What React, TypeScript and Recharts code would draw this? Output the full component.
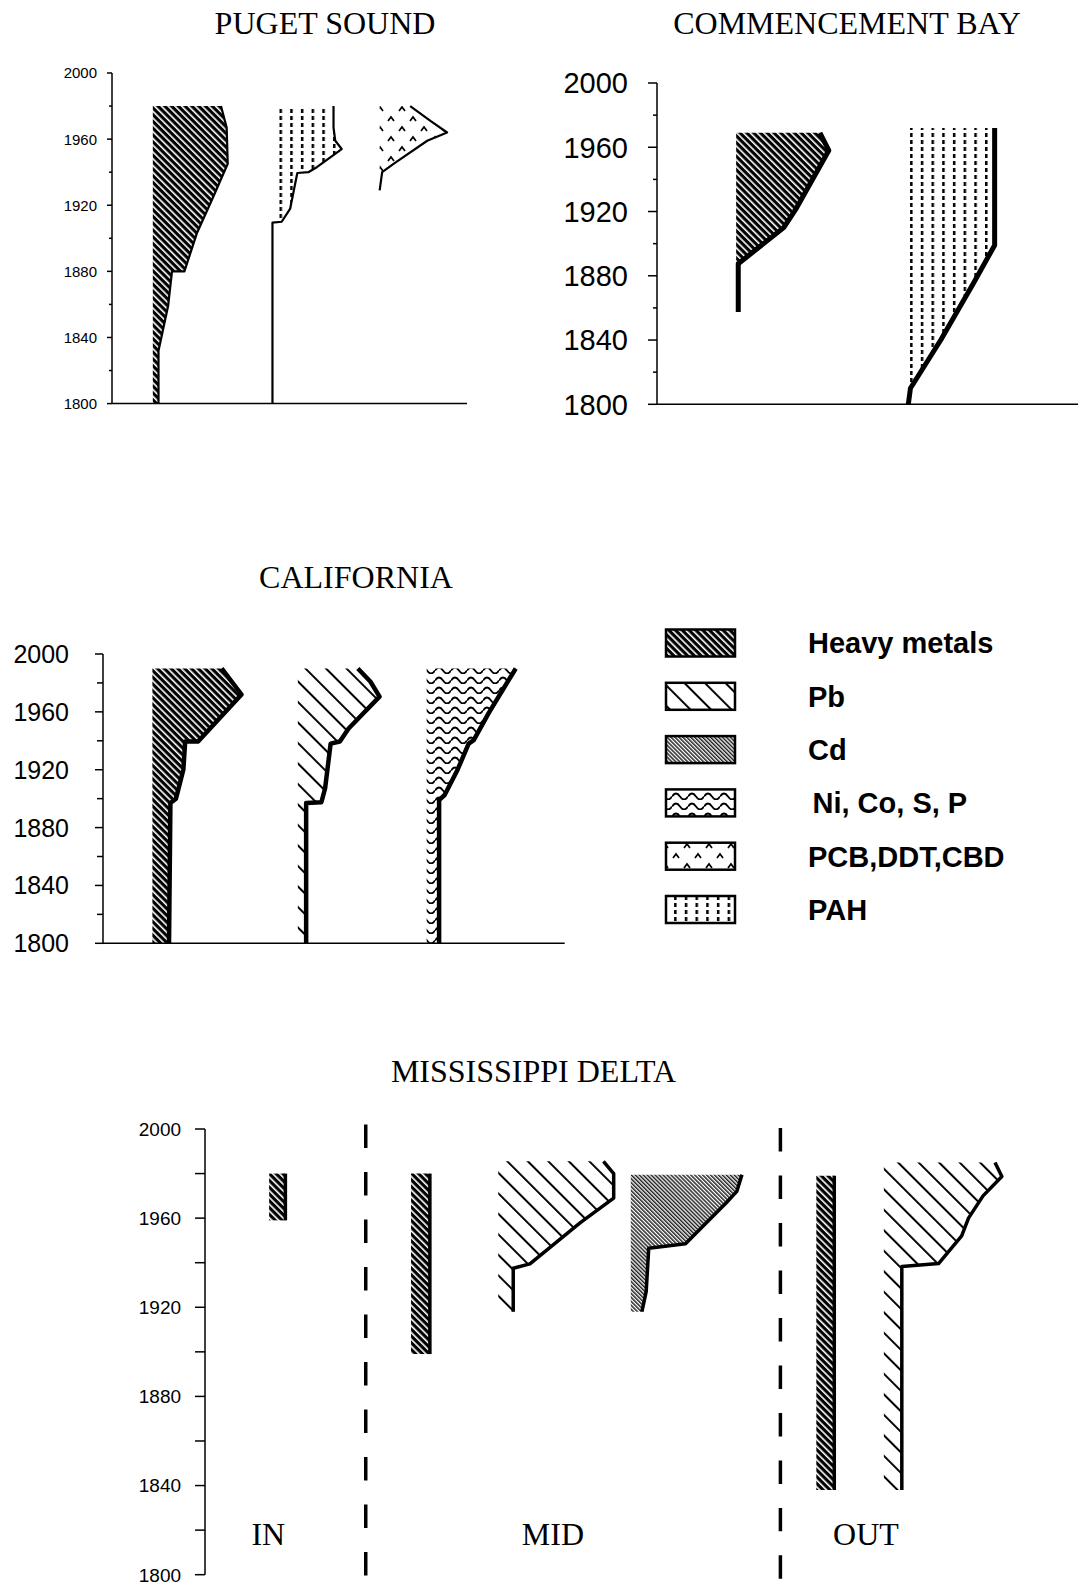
import React from 'react'
import { ComposedChart, Area, XAxis, YAxis, ReferenceLine, ReferenceDot, Legend } from 'recharts'

type Pt = { year: number; v: number }
const pts = (rows: number[][]): Pt[] => rows.map(([year, v]) => ({ year, v }))

// depth-year axis, shared by every panel
const yearTicks = [1800, 1820, 1840, 1860, 1880, 1900, 1920, 1940, 1960, 1980, 2000]

// Puget Sound (relative concentration, 0-100 across the panel)
const pugetMetals = pts([[1800, 1.6], [1832, 1.6], [1859, 4.3], [1880, 5.4], [1880, 8.9], [1903, 12.4], [1925, 17.0], [1945, 21.1], [1967, 20.8], [1980, 19.2]])
const pugetPah = pts([[1800, 0], [1909.5, 0], [1910, 2.6], [1918, 5.0], [1939.5, 7.0], [1940, 10.1], [1943, 12.5], [1954, 19.5], [1959, 17.7], [1967, 17.2], [1980, 17.2]])
const pugetPcb = pts([[1929, 0], [1940, 0.7], [1945, 3.9], [1959, 13.4], [1964, 19.0], [1971, 14.3], [1980, 8.6]])

// Commencement Bay
const cbMetals = pts([[1857.5, 0.5], [1887.5, 0.5], [1910, 11.3], [1922, 14.3], [1958, 22.0], [1969, 19.9]])
const cbPah = pts([[1800, 0], [1810, 0.5], [1840, 7.7], [1875, 15.4], [1899, 20.5], [1972, 20.5]])

// California
const caMetals = pts([[1800, 3.6], [1897, 3.9], [1900, 5.1], [1920, 6.7], [1939.5, 7.1], [1939.5, 9.9], [1972, 19.3], [1990, 15.0]])
const caPb = pts([[1800, 1.8], [1897, 1.8], [1897.5, 5.1], [1907, 5.9], [1938, 7.1], [1939.5, 9.1], [1948.5, 11.0], [1970.5, 17.7], [1981, 15.7], [1990, 13.0]])
const caNi = pts([[1800, 2.7], [1899, 2.7], [1902.5, 3.9], [1920, 6.7], [1938, 9.1], [1940.5, 10.2], [1959, 13.4], [1990, 19.3]])

// Mississippi Delta
const msInMetals = pts([[1959, 1.9], [1980, 1.9]])
const msMidMetals = pts([[1899, 2.2], [1980, 2.2]])
const msMidPb = pts([[1918, 1.75], [1937.5, 1.75], [1939.5, 3.7], [1958, 9.6], [1969, 13.5], [1980, 13.5], [1985.5, 12.3]])
const msMidCd = pts([[1918, 1.3], [1927, 1.8], [1946.5, 2.1], [1948.5, 6.4], [1967, 11.2], [1972, 12.4], [1979.5, 13.0]])
const msOutMetals = pts([[1838, 2.1], [1979, 2.1]])
const msOutPb = pts([[1838, 2.1], [1938.3, 2.1], [1939.6, 6.4], [1952, 9.1], [1960, 9.9], [1970, 11.6], [1978.7, 13.8], [1985, 13.0]])
const msZones = ['IN', 'MID', 'OUT']

const legendItems = [
  { name: 'Heavy metals', pattern: 'hm' },
  { name: 'Pb', pattern: 'pb' },
  { name: 'Cd', pattern: 'cd' },
  { name: 'Ni, Co, S, P', pattern: 'ni' },
  { name: 'PCB,DDT,CBD', pattern: 'pcb' },
  { name: 'PAH', pattern: 'pah' },
]

const SERIF = "'Liberation Serif', 'Times New Roman', serif"
const SANS = "'Liberation Sans', Arial, Helvetica, sans-serif"

function patternDefs(p: string) {
  return (
    <defs>
      <pattern id={`${p}-hm`} width={4.8} height={10} patternUnits="userSpaceOnUse" patternTransform="rotate(-45)">
        <rect width={4.8} height={10} fill="#000" />
        <rect width={1.6} height={10} fill="#fff" />
      </pattern>
      <pattern id={`${p}-pb`} width={14.5} height={10} patternUnits="userSpaceOnUse" patternTransform="rotate(-45)">
        <rect width={14.5} height={10} fill="#fff" />
        <rect width={2} height={10} fill="#000" />
      </pattern>
      <pattern id={`${p}-cd`} width={2.8} height={10} patternUnits="userSpaceOnUse" patternTransform="rotate(-45)">
        <rect width={2.8} height={10} fill="#fff" />
        <rect width={1.5} height={10} fill="#222" />
      </pattern>
      <pattern id={`${p}-ni`} width={16} height={10} patternUnits="userSpaceOnUse">
        <rect width={16} height={10} fill="#fff" />
        <path d="M0,6.5 Q4,0.5 8,6.5 T16,6.5" fill="none" stroke="#000" strokeWidth={1.8} />
      </pattern>
      <pattern id={`${p}-pcb`} width={22} height={20} patternUnits="userSpaceOnUse">
        <rect width={22} height={20} fill="#fff" />
        <path d="M2,8 L5,4 L8,8 M13,18 L16,14 L19,18" fill="none" stroke="#000" strokeWidth={1.7} />
      </pattern>
      <pattern id={`${p}-pah`} width={10.7} height={7} patternUnits="userSpaceOnUse">
        <rect width={10.7} height={7} fill="#fff" />
        <rect x={0} y={0} width={2.5} height={4} fill="#000" />
      </pattern>
    </defs>
  )
}

type TickStyle = { font: number; major: number; minor: number; gap: number }

const makeTick = (t: TickStyle) => (p: any) => {
  const yr = p.payload.value
  const major = yr % 40 === 0
  return (
    <g>
      <line x1={p.x - (major ? t.major : t.minor)} x2={p.x} y1={p.y} y2={p.y} stroke="#000" strokeWidth={1.5} />
      {major && (
        <text x={p.x - t.major - t.gap} y={p.y} dy="0.36em" textAnchor="end" fontSize={t.font} fontFamily={SANS} fill="#000">
          {yr}
        </text>
      )}
    </g>
  )
}

type Profile = { data: Pt[]; base: number; pattern: string }

function Panel(props: {
  id: string
  x0: number
  y0: number
  w: number
  h: number
  rightPad?: number
  profiles: Profile[]
  sw: number
  tick: TickStyle
  baseLine?: boolean
  children?: React.ReactNode
}) {
  const { id, x0, y0, w, h, rightPad = 20, profiles, sw, tick, baseLine = true, children } = props
  const axisW = 100
  const pad = 20
  return (
    <div style={{ position: 'absolute', left: x0 - axisW, top: y0 - pad }}>
      <ComposedChart
        layout="vertical"
        width={w + axisW + rightPad}
        height={h + 2 * pad}
        margin={{ top: pad, bottom: pad, left: 0, right: rightPad }}
      >
        {patternDefs(id)}
        <XAxis type="number" domain={[0, 100]} hide />
        <YAxis
          type="number"
          dataKey="year"
          domain={[1800, 2000]}
          reversed
          ticks={yearTicks}
          interval={0}
          width={axisW}
          tickSize={0}
          tickMargin={0}
          tickLine={false}
          axisLine={{ stroke: '#000', strokeWidth: 1.5 }}
          tick={makeTick(tick)}
        />
        {baseLine && <ReferenceLine y={1800} stroke="#000" strokeWidth={1.5} />}
        {profiles.map((pr, i) => (
          <Area
            key={i}
            data={pr.data}
            dataKey={(d: Pt) => pr.base + d.v}
            baseValue={pr.base}
            type="linear"
            fill={`url(#${id}-${pr.pattern})`}
            fillOpacity={1}
            stroke="#000"
            strokeWidth={sw}
            strokeLinejoin="round"
            dot={false}
            activeDot={false}
            isAnimationActive={false}
          />
        ))}
        {children}
      </ComposedChart>
    </div>
  )
}

function LegendBox() {
  return (
    <svg width={440} height={330} style={{ display: 'block', overflow: 'visible' }}>
      {patternDefs('lg')}
      <g transform="translate(-640,-615)">
        {legendItems.map((it, i) => {
          const cy = 643 + i * 53.3
          return (
            <g key={it.name}>
              <rect x={666} y={cy - 13.5} width={69} height={27} fill={`url(#lg-${it.pattern})`} stroke="#000" strokeWidth={2.5} />
              <text x={i === 3 ? 812.5 : 808} y={cy + 10.3} fontSize={29} fontWeight="bold" fontFamily={SANS} fill="#000">
                {it.name}
              </text>
            </g>
          )
        })}
      </g>
    </svg>
  )
}

export default function App() {
  const titleStyle = { fontFamily: SERIF, fontSize: 32 }
  const zoneX = [7.4, 40.7, 77.3]
  return (
    <div style={{ position: 'absolute', left: 0, top: 0, width: 1078, height: 1590, background: '#fff', overflow: 'hidden' }}>
      <svg width={1078} height={1590} style={{ position: 'absolute', left: 0, top: 0 }}>
        <text x={325} y={34.3} textAnchor="middle" {...titleStyle}>PUGET SOUND</text>
        <text x={847} y={34.3} textAnchor="middle" {...titleStyle}>COMMENCEMENT BAY</text>
        <text x={356} y={588.3} textAnchor="middle" {...titleStyle}>CALIFORNIA</text>
        <text x={533.5} y={1082} textAnchor="middle" {...titleStyle}>MISSISSIPPI DELTA</text>
      </svg>

      <Panel
        id="ps"
        x0={111.7}
        y0={72.7}
        w={355}
        h={330.6}
        sw={2.2}
        tick={{ font: 15, major: 5, minor: 3, gap: 10 }}
        profiles={[
          { data: pugetMetals, base: 11.5, pattern: 'hm' },
          { data: pugetPah, base: 45.2, pattern: 'pah' },
          { data: pugetPcb, base: 75.4, pattern: 'pcb' },
        ]}
      />

      <Panel
        id="cb"
        x0={657}
        y0={82.7}
        w={421}
        h={321.3}
        rightPad={0}
        sw={5}
        tick={{ font: 29, major: 9, minor: 4, gap: 20 }}
        profiles={[
          { data: cbMetals, base: 18.8, pattern: 'hm' },
          { data: cbPah, base: 59.7, pattern: 'pah' },
        ]}
      />

      <Panel
        id="ca"
        x0={103.3}
        y0={654}
        w={461.7}
        h={289.3}
        rightPad={513}
        sw={4.5}
        tick={{ font: 25, major: 8, minor: 6, gap: 26 }}
        profiles={[
          { data: caMetals, base: 10.7, pattern: 'hm' },
          { data: caPb, base: 42.2, pattern: 'pb' },
          { data: caNi, base: 70.1, pattern: 'ni' },
        ]}
      >
        <Legend
          layout="vertical"
          align="center"
          verticalAlign="middle"
          wrapperStyle={{ left: 640 - 3.3, top: 615 - 634, width: 440, height: 330 }}
          content={() => <LegendBox />}
        />
      </Panel>

      <Panel
        id="ms"
        x0={205}
        y0={1129.3}
        w={855}
        h={445.7}
        rightPad={18}
        sw={3.5}
        baseLine={false}
        tick={{ font: 19, major: 10, minor: 10, gap: 14 }}
        profiles={[
          { data: msInMetals, base: 7.5, pattern: 'hm' },
          { data: msMidMetals, base: 24.1, pattern: 'hm' },
          { data: msMidPb, base: 34.3, pattern: 'pb' },
          { data: msMidCd, base: 49.8, pattern: 'cd' },
          { data: msOutMetals, base: 71.5, pattern: 'hm' },
          { data: msOutPb, base: 79.4, pattern: 'pb' },
        ]}
      >
        <ReferenceLine segment={[{ x: 18.8, y: 2002 }, { x: 18.8, y: 1795 }]} stroke="#000" strokeWidth={3.5} strokeDasharray="23.5 24" ifOverflow="visible" />
        <ReferenceLine segment={[{ x: 67.3, y: 2000.5 }, { x: 67.3, y: 1798 }]} stroke="#000" strokeWidth={3.5} strokeDasharray="23.5 24" ifOverflow="visible" />
        {msZones.map((z, i) => (
          <ReferenceDot
            key={z}
            x={zoneX[i]}
            y={1818.5}
            r={0}
            fill="none"
            stroke="none"
            label={{ value: z, position: 'center', fontSize: 32, fontFamily: SERIF, fill: '#000' }}
          />
        ))}
      </Panel>
    </div>
  )
}
